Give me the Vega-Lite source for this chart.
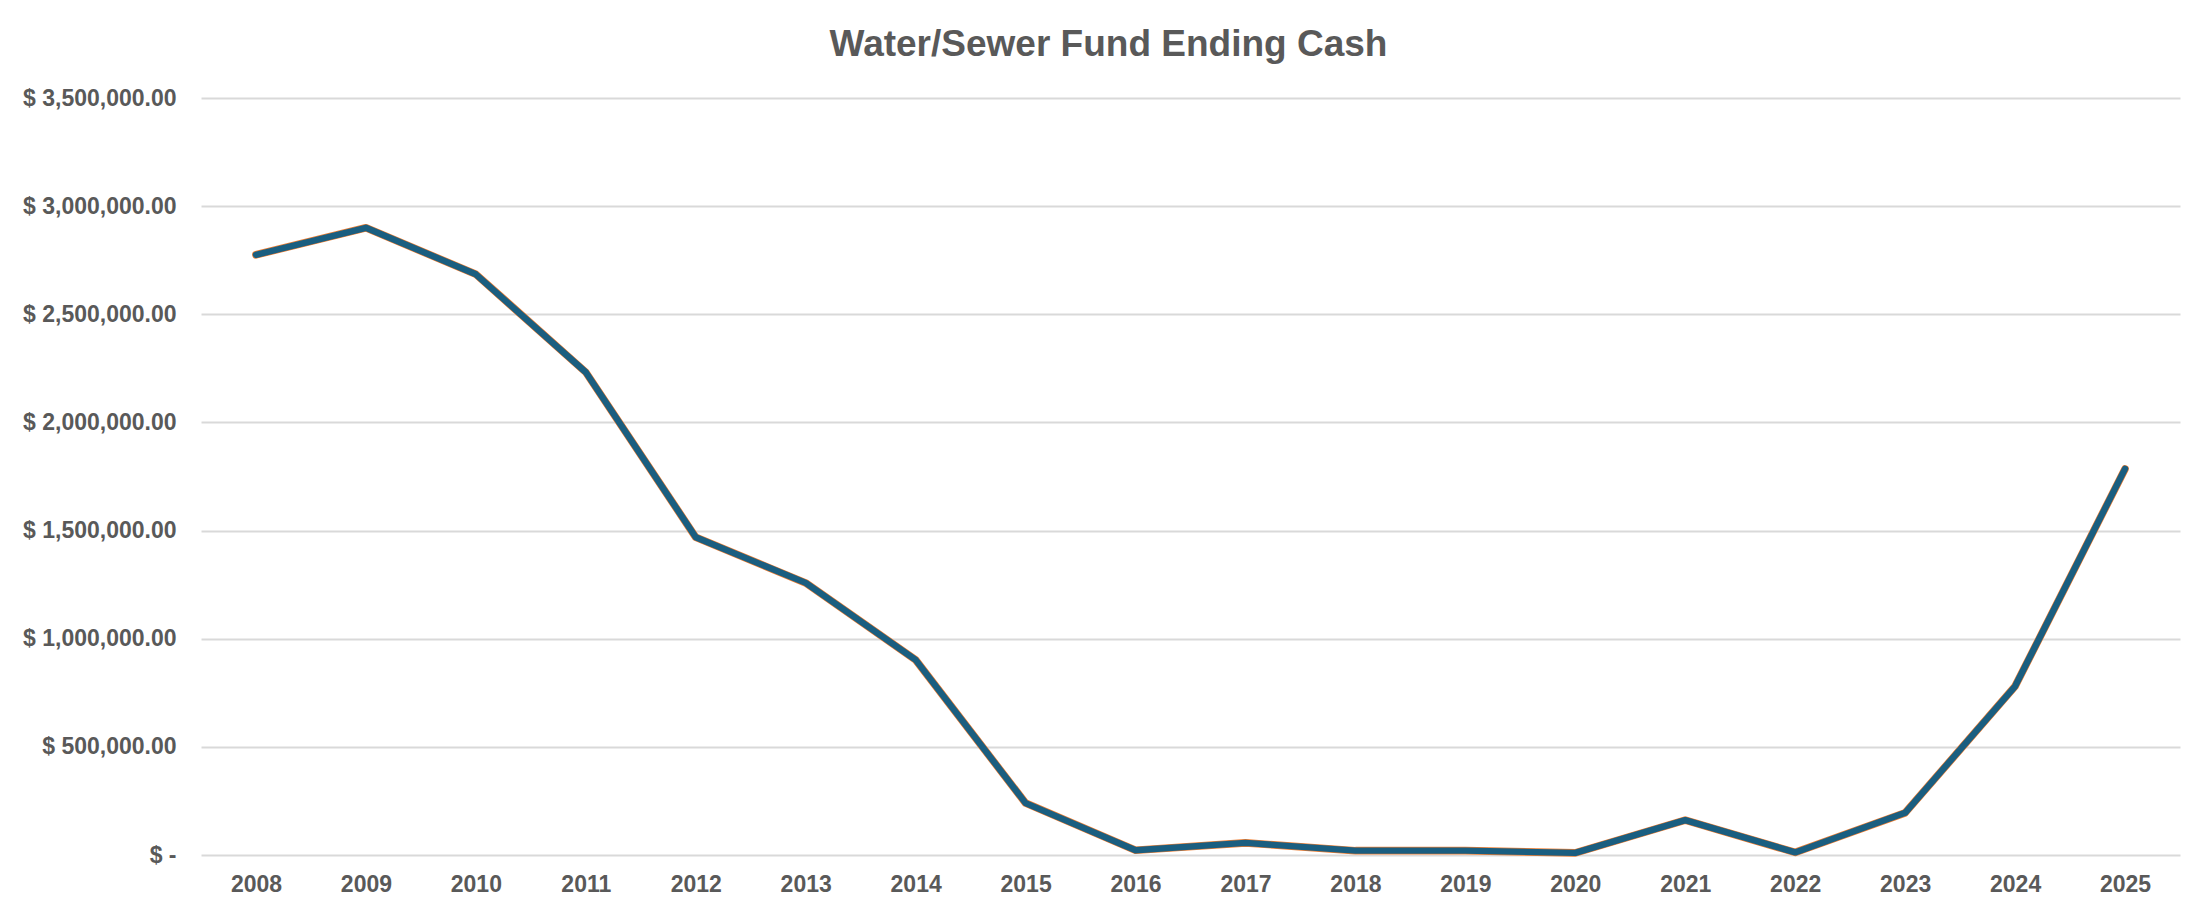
{
  "$schema": "https://vega.github.io/schema/vega-lite/v6.json",
  "width": 1979,
  "height": 757,
  "autosize": "none",
  "padding": {"left": 201, "top": 98, "right": 31, "bottom": 60},
  "background": "white",
  "title": {
    "text": "Water/Sewer Fund Ending Cash",
    "font": "Liberation Sans",
    "fontSize": 37,
    "fontWeight": "bold",
    "color": "#595959",
    "anchor": "middle",
    "dx": -82,
    "offset": 23
  },
  "data": {
    "values": [
      {"Year": "2008", "Cash": 2775000},
      {"Year": "2009", "Cash": 2900000},
      {"Year": "2010", "Cash": 2685000},
      {"Year": "2011", "Cash": 2232000},
      {"Year": "2012", "Cash": 1469000},
      {"Year": "2013", "Cash": 1258000},
      {"Year": "2014", "Cash": 902000},
      {"Year": "2015", "Cash": 240000},
      {"Year": "2016", "Cash": 22000},
      {"Year": "2017", "Cash": 56000},
      {"Year": "2018", "Cash": 20000},
      {"Year": "2019", "Cash": 20000},
      {"Year": "2020", "Cash": 10000},
      {"Year": "2021", "Cash": 161000},
      {"Year": "2022", "Cash": 12000},
      {"Year": "2023", "Cash": 195000},
      {"Year": "2024", "Cash": 780000},
      {"Year": "2025", "Cash": 1785000}
    ]
  },
  "encoding": {
    "x": {
      "field": "Year",
      "type": "ordinal",
      "scale": {"type": "point", "padding": 0.5},
      "axis": {
        "title": null,
        "labelAngle": 0,
        "grid": false,
        "ticks": false,
        "tickSize": 0,
        "domain": false,
        "labelPadding": 18,
        "labelFont": "Liberation Sans",
        "labelFontSize": 23,
        "labelFontWeight": "bold",
        "labelColor": "#595959"
      }
    },
    "y": {
      "field": "Cash",
      "type": "quantitative",
      "scale": {"domain": [0, 3500000], "nice": false, "zero": true},
      "axis": {
        "title": null,
        "values": [0, 500000, 1000000, 1500000, 2000000, 2500000, 3000000, 3500000],
        "labelExpr": "datum.value == 0 ? '$ -' : '$ ' + format(datum.value, ',.2f')",
        "ticks": false,
        "tickSize": 0,
        "domain": false,
        "labelPadding": 25,
        "labelFont": "Liberation Sans",
        "labelFontSize": 23,
        "labelFontWeight": "bold",
        "labelColor": "#595959",
        "grid": true,
        "gridColor": "#D9D9D9",
        "gridWidth": 2
      }
    }
  },
  "layer": [
    {"mark": {"type": "line", "color": "#ED7D31", "strokeWidth": 7.6, "strokeCap": "round", "strokeJoin": "round"}},
    {"mark": {"type": "line", "color": "#1A5E80", "strokeWidth": 6.4, "strokeCap": "round", "strokeJoin": "round"}}
  ],
  "config": {"view": {"stroke": null}}
}
